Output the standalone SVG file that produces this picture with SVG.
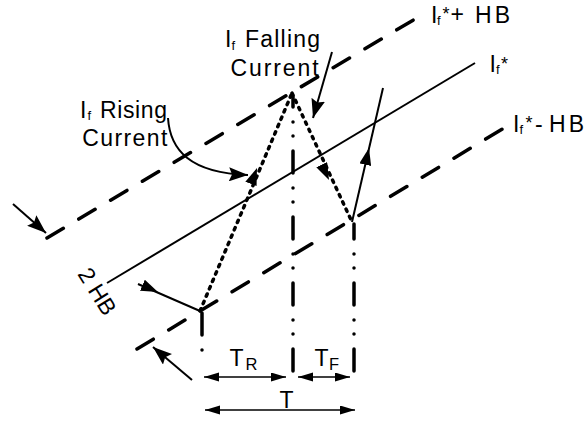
<svg xmlns="http://www.w3.org/2000/svg" width="586" height="421" viewBox="0 0 586 421">
<defs>
<style>
.t{font-family:"Liberation Sans",Arial,sans-serif;font-size:23px;fill:#000}
.sub{font-size:13px}
.sup{font-size:18px}
.dash{fill:none;stroke:#000;stroke-width:3.5;stroke-linecap:round;stroke-dasharray:19 18}
.thin{fill:none;stroke:#000;stroke-width:2}
.dot{fill:none;stroke:#000;stroke-width:3.5;stroke-linecap:round;stroke-dasharray:2.5 5.5}
.dd{fill:none;stroke:#000;stroke-width:3.5;stroke-linecap:round;stroke-dasharray:22 15 0 14 0 15}
.dim{fill:none;stroke:#000;stroke-width:1.5}
</style>
<marker id="ah" markerUnits="userSpaceOnUse" markerWidth="20" markerHeight="14" refX="19" refY="7" orient="auto">
<path d="M0,0 L19,7 L0,14 L3,7 z" fill="#000"/>
</marker>
<marker id="am" markerUnits="userSpaceOnUse" markerWidth="18" markerHeight="12" refX="17" refY="6" orient="auto">
<path d="M0,0 L17,6 L0,12 z" fill="#000"/>
</marker>
<marker id="ad" markerUnits="userSpaceOnUse" markerWidth="16" markerHeight="10" refX="15" refY="4.5" orient="auto-start-reverse">
<path d="M0,0 L15,4.5 L0,9 z" fill="#000"/>
</marker>
</defs>

<g id="connectors">
<path id="upper-band" class="dash" d="M47,238 L415,19"/>
<path id="ref-line" class="thin" d="M107,283 L475,63"/>
<path id="lower-band" class="dash" d="M137,349 L504,128"/>

<path class="dot" d="M200,311 L292,93"/>
<path d="M225,252 L257,168" stroke="none" fill="none" marker-end="url(#am)"/>
<path class="dot" d="M292,93 L352,222"/>
<path d="M310,140 L329,180" stroke="none" fill="none" marker-end="url(#am)"/>
<path class="thin" d="M352,222 L383,88"/>
<path d="M360,188 L369,148" stroke="none" fill="none" marker-end="url(#am)"/>
<path class="thin" d="M138,284 L200,311"/>
<path d="M135,282 L158,292" stroke="none" fill="none" marker-end="url(#am)"/>

<path class="dd" d="M202,313 V364"/>
<path class="dd" d="M293,371 V96"/>
<path class="dd" d="M354,371 V224"/>

<path class="dim" d="M204,377 L286,377" marker-start="url(#ad)" marker-end="url(#ad)"/>
<path class="dim" d="M298,377 L350,377" marker-start="url(#ad)" marker-end="url(#ad)"/>
<path class="dim" d="M205,410 L355,410" marker-start="url(#ad)" marker-end="url(#ad)"/>

<path class="thin" stroke-width="2.5" d="M13,204 L46,233" marker-end="url(#ah)"/>
<path class="thin" stroke-width="2.5" d="M192,380 L153,347" marker-end="url(#ah)"/>

<path class="thin" stroke-width="2.5" d="M168,118 C170,150 190,173 248,175" marker-end="url(#ah)"/>
<path class="thin" stroke-width="2.5" d="M332,52 L313,118" marker-end="url(#ah)"/>
</g>

<g id="label-falling">
<text class="t" x="225" y="47">I<tspan class="sub" x="231.5" y="50">f</tspan><tspan x="245" y="47" textLength="75" lengthAdjust="spacing">Falling</tspan></text>
<text class="t" x="230.6" y="76" textLength="88" lengthAdjust="spacing">Current</text>
</g>

<g id="label-rising">
<text class="t" x="80" y="118">I<tspan class="sub" x="87.5" y="120">f</tspan><tspan x="100" y="118" textLength="67" lengthAdjust="spacing">Rising</tspan></text>
<text class="t" x="82.3" y="146" textLength="85" lengthAdjust="spacing">Current</text>
</g>

<g id="label-upper">
<text class="t" x="431" y="23">I<tspan class="sub" x="437" y="25">f</tspan><tspan class="sup" x="442.5" y="20">*</tspan><tspan x="450.5" y="22">+</tspan><tspan x="475" y="23" textLength="35" lengthAdjust="spacing">HB</tspan></text>
</g>

<g id="label-ref">
<text class="t" x="489.5" y="72">I<tspan class="sub" x="496" y="74">f</tspan><tspan class="sup" x="501" y="70">*</tspan></text>
</g>

<g id="label-lower">
<text class="t" x="513" y="132">I<tspan class="sub" x="519.5" y="134">f</tspan><tspan class="sup" x="525.5" y="129">*</tspan><tspan x="535" y="132">-</tspan><tspan x="549" y="132" textLength="35" lengthAdjust="spacing">HB</tspan></text>
</g>

<g id="label-2hb">
<text class="t" transform="translate(77,274) rotate(58)">2 HB</text>
</g>

<g id="label-tr">
<text class="t" x="229.5" y="366">T<tspan class="sub" style="font-size:16.5px" x="245.4" y="370">R</tspan></text>
</g>
<g id="label-tf">
<text class="t" x="314.5" y="366">T<tspan class="sub" style="font-size:16.5px" x="329" y="370">F</tspan></text>
</g>
<g id="label-t">
<text class="t" x="279.5" y="408">T</text>
</g>
</svg>
